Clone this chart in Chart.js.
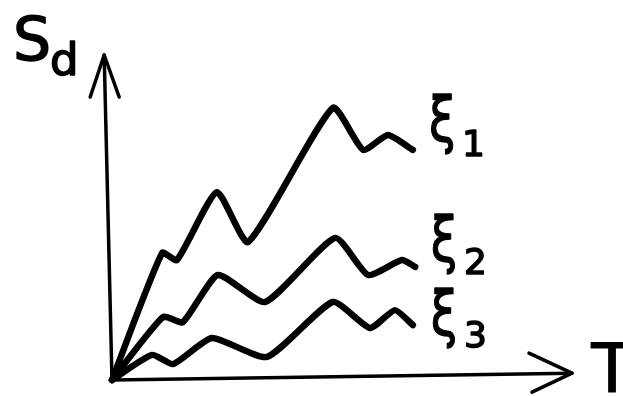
<!DOCTYPE html>
<html><head><meta charset="utf-8">
<script src="https://cdn.jsdelivr.net/npm/chart.js@4"></script>
<style>html,body{margin:0;padding:0;background:#fff}#wrap{width:623px;height:396px}</style>
</head><body><div id="wrap"><canvas id="c" width="623" height="396"></canvas></div>
<script>
// Schematic spectral displacement Sd vs period T for three damping ratios
const seriesNames = ['1', '2', '3']; // subscripts of ξ
const xi1T = [0, 10.9, 14.1, 22.8, 29.6, 48.0, 54.6, 60.0, 65.4];
const xi1Sd = [0, 39.1, 36.9, 57.8, 42.5, 83.7, 70.8, 75.4, 70.8];
const xi2T = [0, 11.1, 15.4, 23.0, 33.3, 48.5, 55.7, 63.0, 65.9];
const xi2Sd = [0, 19.4, 17.8, 32.3, 24.0, 43.7, 32.3, 36.9, 34.8];
const xi3T = [0, 8.7, 13.3, 21.7, 33.7, 48.0, 56.1, 61.5, 65.4];
const xi3Sd = [0, 7.7, 4.9, 12.9, 7.1, 24.0, 16.0, 21.5, 16.9];
const axisLabelY = ['S', 'd'];
const axisLabelX = 'T';

const toPts = (xs, ys) => xs.map((x, i) => ({x, y: ys[i]}));
const series = [toPts(xi1T, xi1Sd), toPts(xi2T, xi2Sd), toPts(xi3T, xi3Sd)];

function boldText(ctx, s, x, y, w) {
  ctx.fillText(s, x, y);
  ctx.lineWidth = w; ctx.strokeText(s, x, y);
}

const axesPlugin = {
  id: 'axesArrows',
  afterDraw(chart) {
    const ctx = chart.ctx, xs = chart.scales.x, ys = chart.scales.y;
    const P = (x, y) => [xs.getPixelForValue(x), ys.getPixelForValue(y)];
    ctx.save();
    ctx.strokeStyle = '#000'; ctx.lineWidth = 3.5; ctx.lineCap = 'round'; ctx.lineJoin = 'round';
    // y axis
    const o = P(0, 0), yt = P(-1.7, 100), xt = P(100, 2.1);
    ctx.beginPath(); ctx.moveTo(o[0], o[1]); ctx.lineTo(yt[0], yt[1]); ctx.stroke();
    ctx.beginPath(); ctx.moveTo(yt[0] - 14, yt[1] + 42); ctx.lineTo(yt[0], yt[1]); ctx.lineTo(yt[0] + 15, yt[1] + 42); ctx.stroke();
    // x axis
    ctx.beginPath(); ctx.moveTo(o[0], o[1]); ctx.lineTo(xt[0], xt[1]); ctx.stroke();
    ctx.beginPath(); ctx.moveTo(xt[0] - 43, xt[1] - 20); ctx.lineTo(xt[0], xt[1]); ctx.lineTo(xt[0] - 40, xt[1] + 19); ctx.stroke();
    // labels
    ctx.fillStyle = '#000'; ctx.textBaseline = 'alphabetic'; ctx.textAlign = 'left';
    const f = 'DejaVu Sans';
    let p = P(-21.5, 98.5); ctx.font = `60px "${f}"`; boldText(ctx, axisLabelY[0], p[0], p[1], 1.5);
    p = P(-13.5, 93.8); ctx.font = `45px "${f}"`; boldText(ctx, axisLabelY[1], p[0], p[1], 1.5);
    p = P(104.2, -3.7); ctx.font = `68px "${f}"`; boldText(ctx, axisLabelX, p[0], p[1], 1);
    // ξ labels at end of each curve
    const labPos = [[68.9, 73.5, 68.9], [69.3, 36.5, 32.6], [69.3, 14.0, 10.2]];
    labPos.forEach((lp, i) => {
      let a = P(lp[0], lp[1]);
      ctx.save(); ctx.translate(a[0], a[1]); ctx.scale(0.85, 1.1);
      ctx.font = `56px "${f}"`; boldText(ctx, 'ξ', 0, 0, 1.2); ctx.restore();
      let b = P(lp[0] + 7.2, lp[2]); ctx.font = `36px "${f}"`; boldText(ctx, seriesNames[i], b[0], b[1], 1.5);
    });
    ctx.restore();
  }
};

new Chart(document.getElementById('c'), {
  type: 'line',
  data: { datasets: series.map((d, i) => ({
    label: 'ξ' + seriesNames[i], data: d, borderColor: '#000', borderWidth: 6.5,
    pointRadius: 0, tension: 0.18, fill: false, borderCapStyle: 'round', borderJoinStyle: 'round'
  })) },
  options: {
    responsive: false, animation: false, clip: false,
    layout: { padding: { left: 112, right: 51, top: 55, bottom: 16 } },
    plugins: { legend: { display: false }, tooltip: { enabled: false } },
    scales: {
      x: { type: 'linear', min: 0, max: 100, display: false },
      y: { type: 'linear', min: 0, max: 100, display: false }
    }
  },
  plugins: [axesPlugin]
});
</script></body></html>
